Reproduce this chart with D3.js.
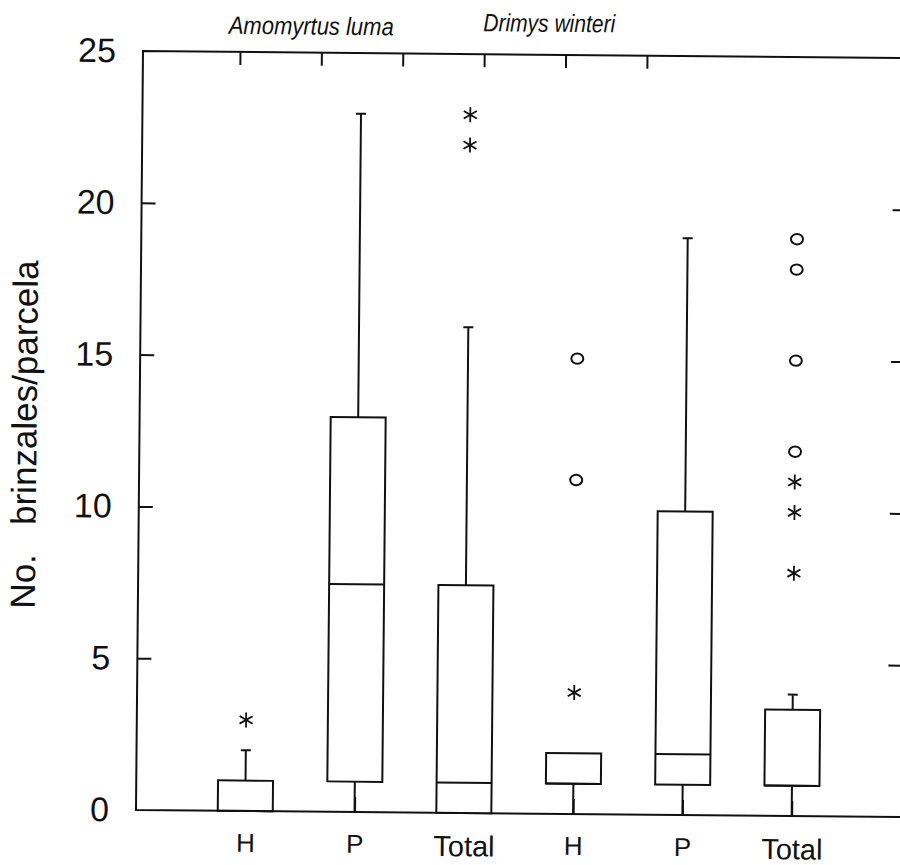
<!DOCTYPE html>
<html>
<head>
<meta charset="utf-8">
<script src="https://cdn.jsdelivr.net/npm/d3@7"></script>
<style>
  body { margin: 0; background: #fff; }
  svg { display: block; font-family: 'Liberation Sans', Arial, Helvetica, sans-serif; }
</style>
</head>
<body>
<div id="chart"></div>
<script>
// Data
const species = ['Amomyrtus luma', 'Drimys winteri']
const boxIds = ['A-H', 'A-P', 'A-Total', 'D-H', 'D-P', 'D-Total']
const boxLabels = ['H', 'P', 'Total', 'H', 'P', 'Total']
const lowWhisker = [0, 0, 0, 0, 0, 0]
const q1 = [0, 1, 0, 1, 1, 1]
const medians = [0, 7.5, 1, 1, 2, 1]
const q3 = [1, 13, 7.5, 2, 10, 3.5]
const highWhisker = [2, 23, 16, 2, 19, 4]
const starOutliers = [[3], [], [23, 22], [4], [], [11, 10, 8]]
const circleOutliers = [[], [], [], [15, 11], [], [19, 18, 15, 12]]
const yTicks = [0, 5, 10, 15, 20, 25]
const innerTicks = [5, 10, 15, 20]
const topTicks = [1, 2, 3, 4, 5, 6]

const boxes = boxIds.map((id, i) => ({
  id, label: boxLabels[i], lo: lowWhisker[i], q1: q1[i], med: medians[i],
  q3: q3[i], hi: highWhisker[i]
}))
const outliers = []
boxIds.forEach((id, i) => {
  starOutliers[i].forEach(v => outliers.push({ id, value: v, type: 'star' }))
  circleOutliers[i].forEach(v => outliers.push({ id, value: v, type: 'circle' }))
})

// Dimensions
const dimensions = {
  width: 900,
  height: 865,
  margins: { top: 51, left: 143 },
  ctrWidth: 765,
  ctrHeight: 759,
  tilt: 0.53   // the scanned page is slightly rotated
}
const ink = '#111'

const svg = d3.select('#chart')
  .append('svg')
  .attr('width', dimensions.width)
  .attr('height', dimensions.height)

const ctr = svg.append('g')
  .attr('transform',
    `translate(${dimensions.margins.left}, ${dimensions.margins.top}) rotate(${dimensions.tilt})`)

// Scales
const xScale = d3.scalePoint()
  .domain(boxIds)
  .range([0, dimensions.ctrWidth])
  .padding(1)

const yScale = d3.scaleLinear()
  .domain([0, 25])
  .range([dimensions.ctrHeight, 0])

const topScale = d3.scaleLinear()
  .domain([1, 6])
  .range([97, 504])

// Frame (left, top, bottom lines)
ctr.append('path')
  .attr('d', `M${dimensions.ctrWidth},${yScale(25)}H0V${yScale(0)}H${dimensions.ctrWidth}`)
  .attr('fill', 'none')
  .attr('stroke', ink)
  .attr('stroke-width', 2)

// Axes
const styleAxis = g => {
  g.attr('font-family', null).attr('font-size', null)
  g.select('.domain').remove()
  g.selectAll('.tick line').attr('stroke', ink).attr('stroke-width', 2)
  g.selectAll('.tick text').attr('fill', ink)
}

const yAxis = d3.axisLeft(yScale)
  .tickValues(yTicks)
  .tickSizeInner(-14)
  .tickSizeOuter(0)
  .tickPadding(27)

ctr.append('g')
  .call(yAxis)
  .call(styleAxis)
  .call(g => g.selectAll('.tick text').style('font-size', '34px'))
  .call(g => g.selectAll('.tick')
    .filter(d => d === 0 || d === 25).select('line').remove())

const rightAxis = d3.axisRight(yScale)
  .tickValues(innerTicks)
  .tickSizeInner(-14)
  .tickSizeOuter(0)
  .tickFormat('')

ctr.append('g')
  .attr('transform', `translate(${dimensions.ctrWidth}, 0)`)
  .call(rightAxis)
  .call(styleAxis)

const topAxis = d3.axisTop(topScale)
  .tickValues(topTicks)
  .tickSizeInner(-13)
  .tickSizeOuter(0)
  .tickFormat('')

ctr.append('g')
  .call(topAxis)
  .call(styleAxis)

const xAxis = d3.axisBottom(xScale)
  .tickSizeInner(-15)
  .tickSizeOuter(0)
  .tickPadding(23)
  .tickFormat((d, i) => boxLabels[i])

ctr.append('g')
  .attr('transform', `translate(0, ${dimensions.ctrHeight})`)
  .call(xAxis)
  .call(styleAxis)
  .call(g => g.selectAll('.tick text')
    .style('font-size', (d, i) => boxLabels[i] === 'Total' ? '29px' : '26px')
    .attr('dy', (d, i) => boxLabels[i] === 'Total' ? '0.7em' : '0.69em'))

// Boxes
const boxW = 55
const capW = 10
const boxG = ctr.append('g')
  .attr('fill', 'none')
  .attr('stroke', ink)
  .attr('stroke-width', 2)

const box = boxG.selectAll('g')
  .data(boxes)
  .join('g')
  .attr('transform', d => `translate(${xScale(d.id)}, 0)`)

// lower whisker
box.filter(d => d.q1 > d.lo)
  .append('line')
  .attr('y1', d => yScale(d.q1))
  .attr('y2', d => yScale(d.lo))

// upper whisker with cap
box.filter(d => d.hi > d.q3)
  .append('path')
  .attr('d', d => `M0,${yScale(d.q3)}V${yScale(d.hi)}M${-capW / 2},${yScale(d.hi)}H${capW / 2}`)

box.append('rect')
  .attr('x', -boxW / 2)
  .attr('width', boxW)
  .attr('y', d => yScale(d.q3))
  .attr('height', d => yScale(d.q1) - yScale(d.q3))
  .attr('fill', '#fff')

box.append('line')
  .attr('x1', -boxW / 2)
  .attr('x2', boxW / 2)
  .attr('y1', d => yScale(d.med))
  .attr('y2', d => yScale(d.med))

// Outliers
const asterisk = {
  draw(context, size) {
    const r = Math.sqrt(size) / 2
    ;[90, 30, -30].forEach(a => {
      const t = a * Math.PI / 180
      context.moveTo(r * Math.cos(t), -r * Math.sin(t))
      context.lineTo(-r * Math.cos(t), r * Math.sin(t))
    })
  }
}

ctr.append('g')
  .selectAll('path')
  .data(outliers.filter(d => d.type === 'star'))
  .join('path')
  .attr('transform', d => `translate(${xScale(d.id)}, ${yScale(d.value)})`)
  .attr('d', d3.symbol(asterisk, 225))
  .attr('fill', 'none')
  .attr('stroke', ink)
  .attr('stroke-width', 1.8)

ctr.append('g')
  .selectAll('ellipse')
  .data(outliers.filter(d => d.type === 'circle'))
  .join('ellipse')
  .attr('cx', d => xScale(d.id))
  .attr('cy', d => yScale(d.value))
  .attr('rx', 6)
  .attr('ry', 5.2)
  .attr('fill', 'none')
  .attr('stroke', ink)
  .attr('stroke-width', 2)

// Species titles (the print uses a narrow italic face)
ctr.selectAll('.species')
  .data(species)
  .join('text')
  .attr('class', 'species')
  .attr('x', (d, i) => [168, 406][i])
  .attr('y', (d, i) => [-18, -23][i])
  .attr('text-anchor', 'middle')
  .attr('textLength', (d, i) => [165, 132][i])
  .attr('lengthAdjust', 'spacingAndGlyphs')
  .style('font-style', 'italic')
  .style('font-size', '25px')
  .attr('fill', ink)
  .text(d => d)

// Y axis label
ctr.append('text')
  .attr('transform', `translate(-103, ${dimensions.ctrHeight / 2 + 5}) rotate(-90)`)
  .attr('text-anchor', 'middle')
  .style('font-size', '35px')
  .style('white-space', 'pre')
  .attr('fill', ink)
  .text('No.   brinzales/parcela')
</script>
</body>
</html>
